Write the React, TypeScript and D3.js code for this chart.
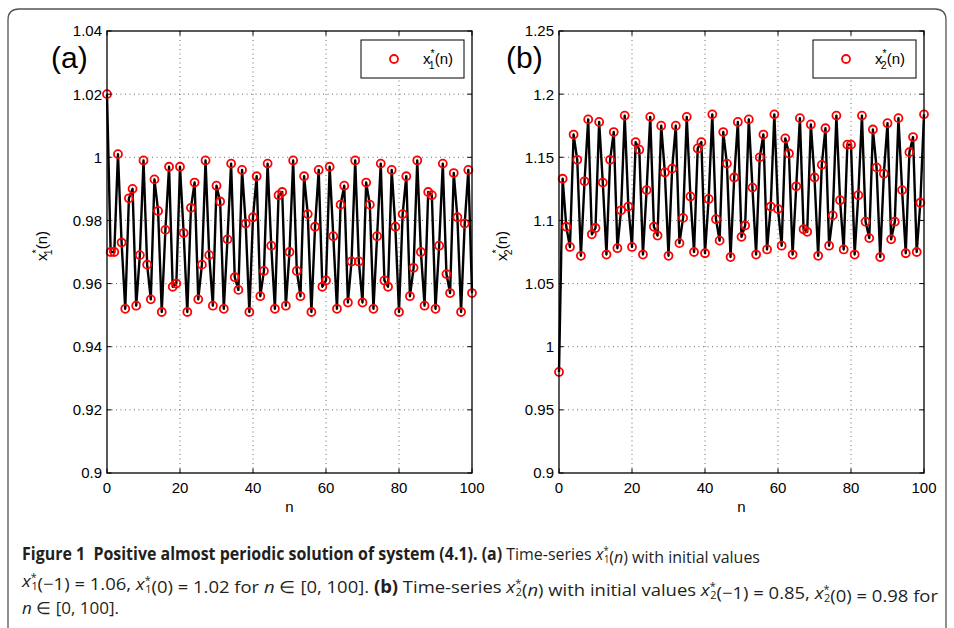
import React from 'react';
import * as d3 from 'd3';

const X_TICKS = [0, 20, 40, 60, 80, 100];
const Y_TICKS_A = [0.9, 0.92, 0.94, 0.96, 0.98, 1, 1.02, 1.04];
const Y_TICKS_B = [0.9, 0.95, 1, 1.05, 1.1, 1.15, 1.2, 1.25];

// x1*(n), n = 0..100
const X1_VALUES = [
    1.020, 0.970, 0.970, 1.001, 0.973, 0.952, 0.987, 0.990, 0.953, 0.969,
    0.999, 0.966, 0.955, 0.993, 0.983, 0.951, 0.977, 0.997, 0.959, 0.960,
    0.997, 0.976, 0.951, 0.984, 0.992, 0.955, 0.966, 0.999, 0.969, 0.953,
    0.991, 0.986, 0.952, 0.974, 0.998, 0.962, 0.958, 0.996, 0.979, 0.951,
    0.981, 0.994, 0.956, 0.964, 0.998, 0.972, 0.952, 0.988, 0.989, 0.953,
    0.970, 0.999, 0.964, 0.956, 0.994, 0.982, 0.951, 0.978, 0.996, 0.959,
    0.961, 0.997, 0.975, 0.952, 0.985, 0.991, 0.954, 0.967, 0.999, 0.967,
    0.954, 0.992, 0.985, 0.952, 0.975, 0.998, 0.961, 0.959, 0.996, 0.978,
    0.951, 0.982, 0.994, 0.956, 0.965, 0.999, 0.970, 0.953, 0.989, 0.988,
    0.952, 0.972, 0.998, 0.963, 0.957, 0.995, 0.981, 0.951, 0.979, 0.996,
    0.957
];

// x2*(n), n = 0..100
const X2_VALUES = [
    0.980, 1.133, 1.095, 1.079, 1.168, 1.148, 1.072, 1.131, 1.180, 1.089,
    1.094, 1.178, 1.130, 1.073, 1.148, 1.170, 1.078, 1.108, 1.183, 1.111,
    1.079, 1.162, 1.156, 1.073, 1.124, 1.182, 1.095, 1.088, 1.175, 1.138,
    1.072, 1.141, 1.175, 1.082, 1.102, 1.182, 1.119, 1.075, 1.157, 1.162,
    1.074, 1.117, 1.184, 1.101, 1.084, 1.170, 1.145, 1.071, 1.134, 1.178,
    1.087, 1.096, 1.180, 1.126, 1.073, 1.150, 1.168, 1.077, 1.111, 1.184,
    1.109, 1.080, 1.165, 1.153, 1.073, 1.127, 1.181, 1.093, 1.091, 1.176,
    1.134, 1.072, 1.144, 1.173, 1.080, 1.104, 1.183, 1.116, 1.077, 1.160,
    1.160, 1.073, 1.120, 1.183, 1.099, 1.086, 1.172, 1.142, 1.071, 1.137,
    1.177, 1.085, 1.099, 1.181, 1.124, 1.074, 1.154, 1.166, 1.075, 1.114,
    1.184
];

const TOP = 31;
const BOTTOM = 473;
const AXIS_FONT = "'Liberation Sans', Arial, sans-serif";
const CAPTION_FONT = "'Open Sans', 'Noto Sans', sans-serif";
const INK = '#231f20';

const fmt = (v) => String(+v.toFixed(2));

// x with star superscript and index subscript, for the axis/legend labels
function StarLabel({ idx, size }) {
    const s = size * 0.7;
    return (
        <>
            <tspan>x</tspan>
            <tspan fontSize={s} dy={-size * 0.45}>*</tspan>
            <tspan fontSize={s} dx={-s * 0.55} dy={size * 0.75}>{idx}</tspan>
            <tspan dy={-size * 0.3}>(n)</tspan>
        </>
    );
}

function Panel({ left, right, values, yDomain, yTicks, tag, tagX, idx, labelX }) {
    const x = d3.scaleLinear().domain([0, 100]).range([left, right]);
    const y = d3.scaleLinear().domain(yDomain).range([BOTTOM, TOP]);
    const pts = values.map((v, i) => [i, v]);
    const line = d3.line().x(d => x(d[0])).y(d => y(d[1]));
    const tick = 4.5;
    const legX = right - 111;
    const legY = 40;

    return (
        <g>
            {/* dotted grid */}
            {X_TICKS.slice(1, -1).map(t => (
                <line key={'gx' + t} x1={x(t)} x2={x(t)} y1={TOP} y2={BOTTOM}
                    stroke="#444" strokeWidth={0.8} strokeDasharray="1,3.5" />
            ))}
            {yTicks.slice(1, -1).map(t => (
                <line key={'gy' + t} x1={left} x2={right} y1={y(t)} y2={y(t)}
                    stroke="#444" strokeWidth={0.8} strokeDasharray="1,3.5" />
            ))}

            <path d={line(pts)} fill="none" stroke="#000" strokeWidth={2.4} strokeLinejoin="round" />
            {pts.map(d => (
                <circle key={d[0]} cx={x(d[0])} cy={y(d[1])} r={4}
                    fill="none" stroke="#ff0000" strokeWidth={1.8} />
            ))}

            {/* box + inward ticks */}
            <rect x={left} y={TOP} width={right - left} height={BOTTOM - TOP}
                fill="none" stroke="#000" strokeWidth={1.3} />
            {X_TICKS.map(t => (
                <g key={'tx' + t}>
                    <line x1={x(t)} x2={x(t)} y1={BOTTOM} y2={BOTTOM - tick} stroke="#000" />
                    <line x1={x(t)} x2={x(t)} y1={TOP} y2={TOP + tick} stroke="#000" />
                    <text x={x(t)} y={BOTTOM + 20} textAnchor="middle" fontSize={15}
                        fontFamily={AXIS_FONT}>{t}</text>
                </g>
            ))}
            {yTicks.map(t => (
                <g key={'ty' + t}>
                    <line x1={left} x2={left + tick} y1={y(t)} y2={y(t)} stroke="#000" />
                    <line x1={right} x2={right - tick} y1={y(t)} y2={y(t)} stroke="#000" />
                    <text x={left - 5} y={y(t) + 5.4} textAnchor="end" fontSize={15}
                        fontFamily={AXIS_FONT}>{fmt(t)}</text>
                </g>
            ))}

            <text x={(left + right) / 2} y={512} textAnchor="middle" fontSize={15}
                fontFamily={AXIS_FONT}>n</text>
            <text transform={`translate(${labelX},246) rotate(-90)`}
                textAnchor="middle" fontSize={15} fontFamily={AXIS_FONT}>
                <StarLabel idx={idx} size={15} />
            </text>

            <text x={tagX} y={68} fontSize={30} fontFamily={AXIS_FONT}>{tag}</text>

            {/* legend */}
            <rect x={legX} y={legY} width={103} height={38} fill="#fff" stroke="#000" strokeWidth={1} />
            <circle cx={legX + 33} cy={legY + 19} r={4} fill="none" stroke="#ff0000" strokeWidth={1.8} />
            <text x={legX + 62} y={legY + 24} fontSize={15} fontFamily={AXIS_FONT}>
                <StarLabel idx={idx} size={15} />
            </text>
        </g>
    );
}

// italic x* with subscript, caption style
function CapX({ idx }) {
    return (
        <>
            <tspan fontStyle="italic">x</tspan>
            <tspan fontSize={10} dy={-6}>*</tspan>
            <tspan fontSize={10} dx={-5} dy={9}>{idx}</tspan>
            <tspan dy={-3}></tspan>
        </>
    );
}

export default function App() {
    return (
        <svg width={954} height={628} style={{ position: 'absolute', left: 0, top: 0, background: '#fff' }}>
            <path d="M8,628 V20 Q8,9 19,9 H935 Q946,9 946,20 V628" fill="none" stroke="#555" strokeWidth={1.3} />

            <Panel left={107} right={472} values={X1_VALUES} yDomain={[0.9, 1.04]}
                yTicks={Y_TICKS_A} tag="(a)" tagX={51} idx="1" labelX={47} />
            <Panel left={559} right={924} values={X2_VALUES} yDomain={[0.9, 1.25]}
                yTicks={Y_TICKS_B} tag="(b)" tagX={506} idx="2" labelX={507} />

            <g fontFamily={CAPTION_FONT} fontSize={17} fill={INK}>
                <text x={22} y={560} textLength={738} lengthAdjust="spacingAndGlyphs">
                    <tspan fontWeight="bold">{'Figure 1\u00a0\u00a0Positive almost periodic solution of system (4.1). (a)'}</tspan>
                    <tspan> Time-series </tspan><CapX idx="1" /><tspan>(</tspan><tspan fontStyle="italic">n</tspan><tspan>) with initial values</tspan>
                </text>
                <text x={22} y={587} textLength={916} lengthAdjust="spacingAndGlyphs">
                    <CapX idx="1" /><tspan>(−1) = 1.06, </tspan>
                    <CapX idx="1" /><tspan>(0) = 1.02 for </tspan>
                    <tspan fontStyle="italic">n</tspan><tspan> ∈ [0, 100]. </tspan>
                    <tspan fontWeight="bold">(b)</tspan>
                    <tspan> Time-series </tspan><CapX idx="2" /><tspan>(</tspan><tspan fontStyle="italic">n</tspan><tspan>) with initial values </tspan>
                    <CapX idx="2" /><tspan>(−1) = 0.85, </tspan>
                    <CapX idx="2" /><tspan>(0) = 0.98 for</tspan>
                </text>
                <text x={22} y={614}>
                    <tspan fontStyle="italic">n</tspan><tspan> ∈ [0, 100].</tspan>
                </text>
            </g>
        </svg>
    );
}
